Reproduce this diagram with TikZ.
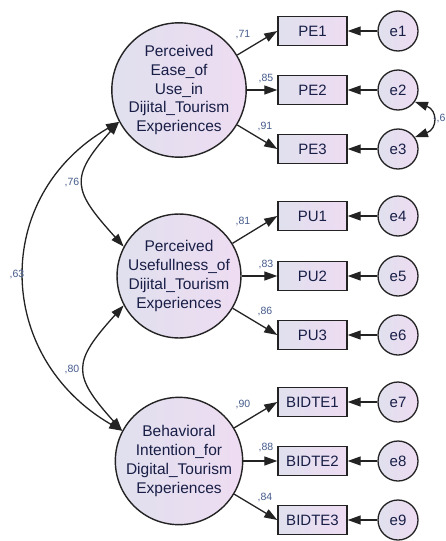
\documentclass[tikz,border=0pt]{standalone}
\usepackage{fontspec}
\setmainfont{Liberation Sans}
\usetikzlibrary{arrows.meta}
\definecolor{ink}{RGB}{24,30,70}
\definecolor{numblue}{RGB}{70,92,140}
\definecolor{edge}{RGB}{35,35,35}
\definecolor{lavL}{RGB}{224,224,238}
\definecolor{lavR}{RGB}{238,220,242}

\tikzset{
  latent/.style={circle, draw=edge, line width=1.4pt, minimum size=122pt, inner sep=0pt,
    left color=lavL, right color=lavR, align=center, text=ink,
    font=\fontsize{15.5}{18.8}\selectfont},
  indicator/.style={rectangle, draw=edge, line width=1.4pt, minimum width=69pt,
    minimum height=29pt, inner sep=0pt, left color=lavL, right color=lavR, text=ink,
    font=\fontsize{15}{18}\selectfont},
  errvar/.style={circle, draw=edge, line width=1.3pt, minimum size=40pt, inner sep=0pt,
    left color=lavL, right color=lavR, text=ink, font=\fontsize{15}{18}\selectfont},
  tip/.tip={Triangle[length=13pt,width=9pt]},
  loadarrow/.style={draw=edge, line width=1.3pt, -tip},
  cov/.style={draw=edge, line width=1.3pt, tip-tip},
  coef/.style={text=numblue, font=\fontsize{10.5}{12}\selectfont, inner sep=0pt},
}

\begin{document}
\begin{tikzpicture}[x=1pt, y=-1pt]
\useasboundingbox[fill=white] (0,0) rectangle (445,541);

% latent factors
\node[latent] (F1) at (179,90)  {Perceived\\Ease\_of\\Use\_in\\Dijital\_Tourism\\Experiences};
\node[latent] (F2) at (179,276) {Perceived\\Usefullness\_of\\Dijital\_Tourism\\Experiences};
\node[latent] (F3) at (179,461) {Behavioral\\Intention\_for\\Digital\_Tourism\\Experiences};

% observed indicators
\node[indicator] (PE1) at (312.5,31)  {PE1};
\node[indicator] (PE2) at (312.5,90)  {PE2};
\node[indicator] (PE3) at (312.5,149) {PE3};
\node[indicator] (PU1) at (312.5,216) {PU1};
\node[indicator] (PU2) at (312.5,276) {PU2};
\node[indicator] (PU3) at (312.5,335) {PU3};
\node[indicator] (BI1) at (312.5,402) {BIDTE1};
\node[indicator] (BI2) at (312.5,461) {BIDTE2};
\node[indicator] (BI3) at (312.5,520) {BIDTE3};

% error terms
\node[errvar] (e1) at (398,31)  {e1};
\node[errvar] (e2) at (398,90)  {e2};
\node[errvar] (e3) at (398,149) {e3};
\node[errvar] (e4) at (398,216) {e4};
\node[errvar] (e5) at (398,276) {e5};
\node[errvar] (e6) at (398,335) {e6};
\node[errvar] (e7) at (398,402) {e7};
\node[errvar] (e8) at (398,461) {e8};
\node[errvar] (e9) at (398,520) {e9};

% factor loadings
\foreach \f/\a/\b/\c in {F1/PE1/PE2/PE3, F2/PU1/PU2/PU3, F3/BI1/BI2/BI3}{
  \draw[loadarrow] (\f) -- (\a.west);
  \draw[loadarrow] (\f) -- (\b.west);
  \draw[loadarrow] (\f) -- (\c.west);
}

% error paths
\foreach \e/\x in {e1/PE1, e2/PE2, e3/PE3, e4/PU1, e5/PU2, e6/PU3, e7/BI1, e8/BI2, e9/BI3}{
  \draw[loadarrow] (\e) -- (\x);
}

% covariances
\draw[cov] (F1.208) to[out=228, in=132, looseness=1.55] (F2.152);
\draw[cov] (F2.208) to[out=228, in=132, looseness=1.55] (F3.152);
\draw[cov] (F1.208) to[out=210, in=150, looseness=1.22] (F3.152);
\draw[cov] (e2.-35) to[out=-20, in=20, looseness=1.76] (e3.35);

% estimates
\node[coef] (l1) at (243,35)  {,71};
\node[coef] (l2) at (266,79)  {,85};
\node[coef] (l3) at (265,127) {,91};
\node[coef] (l4) at (243,222) {,81};
\node[coef] (l5) at (266,265) {,83};
\node[coef] (l6) at (265,312) {,86};
\node[coef] (l7) at (243,405) {,90};
\node[coef] (l8) at (266,448) {,88};
\node[coef] (l9) at (265,497) {,84};
\node[coef] (c12) at (72,183) {,76};
\node[coef] (c13) at (17,275) {,63};
\node[coef] (c23) at (72,370) {,80};
\node[coef, anchor=west] (c23e) at (433,119) {-,6};
\end{tikzpicture}
\end{document}
